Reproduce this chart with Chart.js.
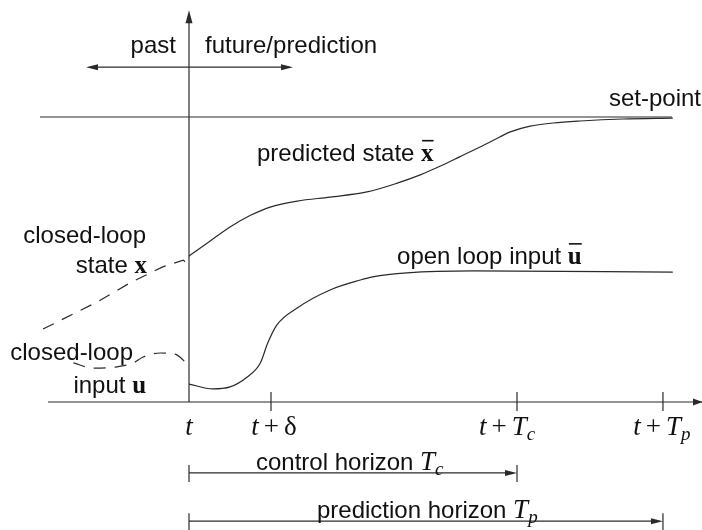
<!DOCTYPE html>
<html>
<head>
<meta charset="utf-8">
<script src="https://cdn.jsdelivr.net/npm/chart.js@4.4.1/dist/chart.umd.min.js"></script>
<style>
  html, body { margin: 0; padding: 0; background: #fff; }
  #wrap { width: 702px; height: 530px; }
</style>
</head>
<body>
<div id="wrap"><canvas id="mpc" width="702" height="530"></canvas></div>
<script>
(function() {
  'use strict';

  // time axis in units of the sampling time delta, t = 0 is "now"
  var tickTimes = [0, 1, 4, 5.78];
  var tickLabels = ['t', 't + δ', 't + T_c', 't + T_p'];
  var controlHorizon = 4;
  var predictionHorizon = 5.78;
  var setPoint = 10;

  // predicted state x-bar (future)
  var predTime  = [0, 0.25, 0.50, 0.75, 0.99, 1.32, 1.72, 2.17, 2.54, 2.82, 3.06, 3.30, 3.55, 3.79, 3.91, 4.16, 4.44, 4.77, 5.29, 5.90];
  var predState = [5.12, 5.63, 6.14, 6.55, 6.84, 7.05, 7.19, 7.37, 7.68, 7.97, 8.27, 8.60, 8.95, 9.30, 9.47, 9.68, 9.79, 9.86, 9.93, 9.96];

  // open loop input u-bar (future)
  var inputTime  = [0, 0.29, 0.50, 0.71, 0.87, 0.96, 1.07, 1.32, 1.72, 2.09, 2.24, 2.66, 3.46, 5.90];
  var inputValue = [0.63, 0.46, 0.53, 0.88, 1.37, 2.07, 2.70, 3.30, 3.93, 4.28, 4.39, 4.53, 4.60, 4.56];

  // closed-loop state x (past)
  var pastStateTime  = [-1.78, -1.12, -0.72, -0.32, -0.07, -0.03, 0];
  var pastStateValue = [2.56, 3.51, 4.18, 4.74, 4.98, 4.88, 5.12];

  // closed-loop input u (past)
  var pastInputTime  = [-1.41, -1.17, -0.88, -0.68, -0.56, -0.35, -0.17, -0.07, 0];
  var pastInputValue = [1.37, 1.19, 1.23, 1.37, 1.58, 1.72, 1.68, 1.47, 1.23];

  var INK = '#2a2a2a';
  var SANS = '"Liberation Sans", Arial, sans-serif';
  var SERIF = '"Liberation Serif", "Times New Roman", serif';

  function pts(xs, ys) {
    return xs.map(function(x, i) { return { x: x, y: ys[i] }; });
  }

  function arrowHead(ctx, x, y, dir, len, half) {
    ctx.beginPath();
    if (dir === 'right') { ctx.moveTo(x, y); ctx.lineTo(x - len, y - half); ctx.lineTo(x - len, y + half); }
    if (dir === 'left')  { ctx.moveTo(x, y); ctx.lineTo(x + len, y - half); ctx.lineTo(x + len, y + half); }
    if (dir === 'up')    { ctx.moveTo(x, y); ctx.lineTo(x - half, y + len); ctx.lineTo(x + half, y + len); }
    ctx.closePath();
    ctx.fill();
  }

  function line(ctx, x1, y1, x2, y2) {
    ctx.beginPath();
    ctx.moveTo(x1, y1);
    ctx.lineTo(x2, y2);
    ctx.stroke();
  }

  // parts: [{text, font, dy, bar}]
  function richText(ctx, parts, x, y, align) {
    var total = 0;
    parts.forEach(function(p) { ctx.font = p.font; p.w = ctx.measureText(p.text).width; total += p.w + (p.gap || 0); });
    var cx = align === 'right' ? x - total : (align === 'center' ? x - total / 2 : x);
    parts.forEach(function(p) {
      ctx.font = p.font;
      ctx.fillText(p.text, cx, y + (p.dy || 0));
      if (p.bar) {
        ctx.fillRect(cx + 1, y - 21, p.w - 1, 1.6);
      }
      cx += p.w + (p.gap || 0);
    });
  }

  function mathParts(s) {
    var parts = [];
    s.split(' ').forEach(function(tok) {
      if (tok === '+') {
        parts.push({ text: '+', font: '27px ' + SERIF, gap: 5 });
        parts[parts.length - 2].gap = 5;
      } else if (tok === 'δ') {
        parts.push({ text: 'δ', font: '27px ' + SERIF });
      } else if (tok.indexOf('_') > 0) {
        var bits = tok.split('_');
        parts.push({ text: bits[0], font: 'italic 27px ' + SERIF });
        parts.push({ text: bits[1], font: 'italic 19px ' + SERIF, dy: 5 });
      } else {
        parts.push({ text: tok, font: 'italic 27px ' + SERIF });
      }
    });
    return parts;
  }

  var diagramPlugin = {
    id: 'mpcDiagram',
    beforeDatasetsDraw: function(chart) {
      var ctx = chart.ctx;
      var xs = chart.scales.x, ys = chart.scales.y;
      var x0 = xs.getPixelForValue(0), y0 = ys.getPixelForValue(0);
      ctx.save();
      ctx.strokeStyle = INK;
      ctx.fillStyle = INK;
      ctx.lineWidth = 1.2;

      // time axis
      line(ctx, xs.getPixelForValue(-1.72), y0, chart.width, y0);
      arrowHead(ctx, chart.width + 1, y0, 'right', 10, 3.5);
      // value axis
      var yTop = ys.getPixelForValue(13.75);
      line(ctx, x0, y0, x0, yTop + 4);
      arrowHead(ctx, x0, yTop, 'up', 13, 3.5);

      // ticks
      tickTimes.forEach(function(t) {
        if (t === 0) return;
        var px = xs.getPixelForValue(t);
        line(ctx, px, y0 - 10, px, y0 + 9);
      });

      // past / future arrow
      var ya = ys.getPixelForValue(11.75);
      var xl = xs.getPixelForValue(-1.256), xr = xs.getPixelForValue(1.268);
      line(ctx, xl + 4, ya, xr - 4, ya);
      arrowHead(ctx, xl, ya, 'left', 12, 3);
      arrowHead(ctx, xr, ya, 'right', 12, 3);

      // horizons
      [[controlHorizon, -2.49], [predictionHorizon, -4.18]].forEach(function(h) {
        var yh = ys.getPixelForValue(h[1]);
        var xe = xs.getPixelForValue(h[0]);
        line(ctx, x0, yh - 8, x0, yh + 9);
        line(ctx, xe, yh - 8, xe, yh + 9);
        line(ctx, x0, yh, xe - 6, yh);
        arrowHead(ctx, xe, yh, 'right', 12, 3);
      });
      ctx.restore();
    },
    afterDraw: function(chart) {
      var ctx = chart.ctx;
      var xs = chart.scales.x, ys = chart.scales.y;
      function X(t) { return xs.getPixelForValue(t); }
      function Y(v) { return ys.getPixelForValue(v); }
      var sans = '24px ' + SANS;
      var bold = 'bold 25px ' + SERIF;
      ctx.save();
      ctx.fillStyle = '#111';
      ctx.textBaseline = 'alphabetic';

      richText(ctx, [{ text: 'past', font: sans }], X(-0.159), Y(12.25), 'right');
      richText(ctx, [{ text: 'future/prediction', font: sans }], X(0.195), Y(12.25), 'left');
      richText(ctx, [{ text: 'set-point', font: sans }], X(6.244), Y(10.39), 'right');
      richText(ctx, [{ text: 'predicted state ', font: sans }, { text: 'x', font: bold, bar: true }], X(0.829), Y(8.46), 'left');
      richText(ctx, [{ text: 'closed-loop', font: sans }], X(-0.524), Y(5.58), 'right');
      richText(ctx, [{ text: 'state ', font: sans }, { text: 'x', font: bold }], X(-0.512), Y(4.53), 'right');
      richText(ctx, [{ text: 'closed-loop', font: sans }], X(-0.683), Y(1.47), 'right');
      richText(ctx, [{ text: 'input ', font: sans }, { text: 'u', font: bold }], X(-0.524), Y(0.316), 'right');
      richText(ctx, [{ text: 'open loop input ', font: sans }, { text: 'u', font: bold, bar: true }], X(2.537), Y(4.84), 'left');

      var tickShift = [0, 3, -10, -1];
      tickTimes.forEach(function(t, i) {
        richText(ctx, mathParts(tickLabels[i]), X(t) + tickShift[i], Y(-1.158), 'center');
      });

      richText(ctx, [{ text: 'control horizon ', font: sans }].concat(mathParts('T_c')), X(0.817), Y(-2.386), 'left');
      richText(ctx, [{ text: 'prediction horizon ', font: sans }].concat(mathParts('T_p')), X(1.561), Y(-4.07), 'left');
      ctx.restore();
    }
  };

  var lineStyle = {
    borderColor: INK,
    borderWidth: 1.2,
    pointRadius: 0,
    fill: false
  };

  new Chart(document.getElementById('mpc').getContext('2d'), {
    type: 'line',
    data: {
      datasets: [
        Object.assign({ label: 'set-point', data: pts([-1.817, 5.89], [setPoint, setPoint]), tension: 0 }, lineStyle),
        Object.assign({ label: 'predicted state', data: pts(predTime, predState), cubicInterpolationMode: 'monotone' }, lineStyle),
        Object.assign({ label: 'open loop input', data: pts(inputTime, inputValue), cubicInterpolationMode: 'monotone' }, lineStyle),
        Object.assign({ label: 'closed-loop state', data: pts(pastStateTime, pastStateValue), tension: 0, borderDash: [12, 9], borderColor: '#555', borderWidth: 1 }, lineStyle),
        Object.assign({ label: 'closed-loop input', data: pts(pastInputTime, pastInputValue), cubicInterpolationMode: 'monotone', borderDash: [12, 9], borderColor: '#555', borderWidth: 1 }, lineStyle)
      ]
    },
    options: {
      responsive: false,
      animation: false,
      devicePixelRatio: 1,
      layout: { padding: 0 },
      plugins: { legend: { display: false }, tooltip: { enabled: false }, title: { display: false } },
      scales: {
        x: { type: 'linear', min: -189 / 82, max: 513 / 82, display: false },
        y: { type: 'linear', min: -128 / 28.5, max: 402 / 28.5, display: false }
      }
    },
    plugins: [diagramPlugin]
  });
})();
</script>
</body>
</html>
